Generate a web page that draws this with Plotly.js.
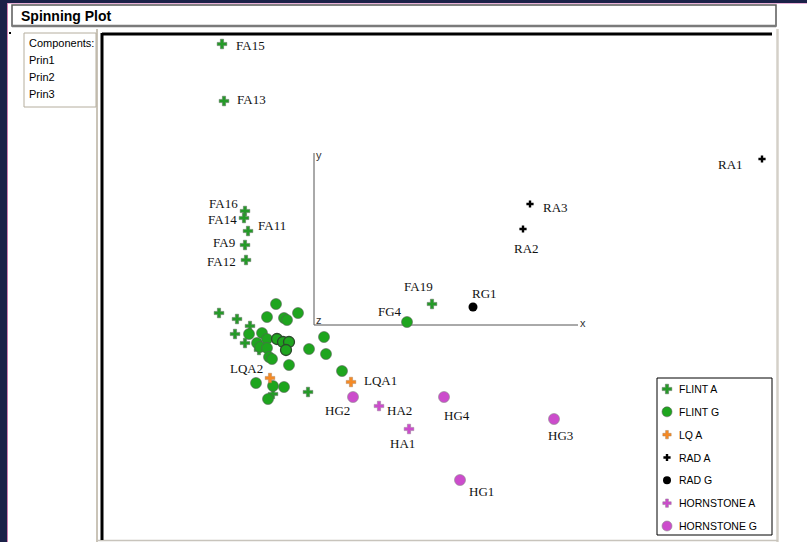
<!DOCTYPE html>
<html>
<head>
<meta charset="utf-8">
<script src="https://cdn.plot.ly/plotly-3.0.1.min.js"></script>
<style>html,body{margin:0;padding:0;background:#fff;}#chart{width:807px;height:542px;}</style>
</head>
<body>
<div id="chart"></div>
<script>
// ---- DATA (principal component scores) ----
const flintA_names = ["FA15","FA13","FA16","FA14","FA11","FA9","FA12","FA19","","","","","","","",""];
const flintA_prin1 = [-1.84,-1.80,-1.38,-1.40,-1.32,-1.38,-1.36,2.36,-1.90,-1.54,-1.28,-1.58,-1.38,-1.10,-0.12,-0.82];
const flintA_prin2 = [5.62,4.48,2.28,2.14,1.88,1.60,1.30,0.42,0.24,0.12,-0.02,-0.18,-0.36,-0.50,-1.34,-1.38];

const flintG_names = ["FG4","","","","","","","","","","","","","","","","","","","","","",""];
const flintG_prin1 = [1.86,-0.76,-0.94,-0.60,-0.54,-0.32,-1.30,-1.04,-1.14,-0.94,-1.08,-0.94,-0.90,-0.84,-0.50,-0.10,0.20,0.24,0.56,-1.16,-0.82,-0.60,-0.92];
const flintG_prin2 = [0.06,0.42,0.16,0.14,0.10,0.24,-0.18,-0.16,-0.36,-0.28,-0.44,-0.46,-0.64,-0.68,-0.80,-0.48,-0.24,-0.58,-0.92,-1.16,-1.22,-1.24,-1.48];
// selected (highlighted) FLINT G rows
const flintGsel_prin1 = [-0.74,-0.62,-0.50,-0.56];
const flintGsel_prin2 = [-0.28,-0.34,-0.34,-0.50];

const lqA_names = ["LQA1","LQA2"];
const lqA_prin1 = [0.74,-0.88];
const lqA_prin2 = [-1.14,-1.06];

const radA_names = ["RA1","RA2","RA3"];
const radA_prin1 = [8.96,4.18,4.32];
const radA_prin2 = [3.32,1.92,2.42];

const radG_names = ["RG1"];
const radG_prin1 = [3.18];
const radG_prin2 = [0.36];

const hornA_names = ["HA2","HA1"];
const hornA_prin1 = [1.30,1.90];
const hornA_prin2 = [-1.62,-2.08];

const hornG_names = ["HG2","HG4","HG3","HG1"];
const hornG_prin1 = [0.78,2.60,4.80,2.92];
const hornG_prin2 = [-1.44,-1.44,-1.88,-3.10];

const legendItems = ["FLINT A","FLINT G","LQ A","RAD A","RAD G","HORNSTONE A","HORNSTONE G"];
const components = ["Components:","Prin1","Prin2","Prin3"];
const triad_x_end = 5.28;   // length of drawn x axis of the spin triad
const triad_y_end = 3.44;   // length of drawn y axis of the spin triad

// ---- STYLE / LAYOUT ----
const GREEN = "#1ea51e", GREEN_A = "#259a28", ORANGE = "#f58a25", MAG = "#cc4ccc";
const styles = {
  "FLINT A":     {symbol:"cross",  size:8,  color:GREEN_A, line:{color:"rgba(90,110,90,0.5)", width:1}},
  "FLINT G":     {symbol:"circle", size:11, color:GREEN,   line:{color:"rgba(90,90,90,0.55)", width:1}},
  "LQ A":        {symbol:"cross",  size:8,  color:ORANGE,  line:{color:"rgba(160,120,80,0.4)", width:1}},
  "RAD A":       {symbol:"cross",  size:6,  color:"#000",  line:{width:0}},
  "RAD G":       {symbol:"circle", size:9,  color:"#000",  line:{width:0}},
  "HORNSTONE A": {symbol:"cross",  size:8,  color:MAG,     line:{color:"rgba(150,120,150,0.5)", width:1}},
  "HORNSTONE G": {symbol:"circle", size:11, color:MAG,     line:{color:"rgba(140,140,140,0.6)", width:1}}
};
const legendSizes = {"FLINT A":8,"FLINT G":10,"LQ A":7,"RAD A":6,"RAD G":8,"HORNSTONE A":7,"HORNSTONE G":10};

const labelOffsets = {
  FA15:["left",13,-1], FA13:["left",12,2], FA16:["right",-6,8], FA14:["right",-6,-1],
  FA11:["left",9,6], FA9:["right",-9,3], FA12:["right",-9,-1], FA19:["right",2,18],
  FG4:["right",-4,11], RG1:["left",-2,14], RA3:["left",12,-3], RA2:["left",-10,-19],
  RA1:["right",-18,-5], LQA1:["left",12,2], LQA2:["right",-6,10], HG2:["right",-2,-13],
  HA2:["left",7,-4], HA1:["left",-20,-14], HG4:["left",-1,-18], HG3:["left",-7,-16],
  HG1:["left",8,-11]
};

const ML = 102, MR = 35, MT = 34, MB = 2, W = 807, H = 542;
const PW = W - ML - MR, PH = H - MT - MB;
const px = p => (p - ML) / PW;
const py = p => (H - MB - p) / PH;

const mk = (name, xs, ys, extra) => Object.assign({type:"scatter", mode:"markers", hoverinfo:"skip",
  showlegend:false, name, x:xs, y:ys, marker:Object.assign({}, styles[name])}, extra || {});

const traces = [
  {type:"scatter", mode:"lines", x:[0, 0], y:[0, triad_y_end], showlegend:false, hoverinfo:"skip", line:{color:"#555", width:1}},
  {type:"scatter", mode:"lines", x:[0, triad_x_end], y:[0, 0], showlegend:false, hoverinfo:"skip", line:{color:"#555", width:1}},
  mk("FLINT A", flintA_prin1, flintA_prin2),
  mk("FLINT G", flintG_prin1, flintG_prin2),
  Object.assign(mk("FLINT G", flintGsel_prin1, flintGsel_prin2), {marker:Object.assign({}, styles["FLINT G"], {line:{color:"#2c4a2c", width:1.3}})}),
  mk("LQ A", lqA_prin1, lqA_prin2),
  mk("RAD A", radA_prin1, radA_prin2),
  mk("RAD G", radG_prin1, radG_prin2),
  mk("HORNSTONE A", hornA_prin1, hornA_prin2),
  mk("HORNSTONE G", hornG_prin1, hornG_prin2)
];

// legend drawn on its own small axes: one key marker per category
legendItems.forEach((name, i) => {
  const m = Object.assign({}, styles[name], {size:legendSizes[name]});
  traces.push({type:"scatter", mode:"markers", hoverinfo:"skip", showlegend:false,
    xaxis:"x2", yaxis:"y2", x:[10], y:[i], marker:m});
});

// point labels
const annotations = [];
const groups = [[flintA_names,flintA_prin1,flintA_prin2],[flintG_names,flintG_prin1,flintG_prin2],
  [lqA_names,lqA_prin1,lqA_prin2],[radA_names,radA_prin1,radA_prin2],[radG_names,radG_prin1,radG_prin2],
  [hornA_names,hornA_prin1,hornA_prin2],[hornG_names,hornG_prin1,hornG_prin2]];
groups.forEach(([n, xs, ys]) => n.forEach((lab, i) => {
  if (!lab) return;
  const o = labelOffsets[lab] || ["left", 8, 0];
  annotations.push({xref:"x", yref:"y", x:xs[i], y:ys[i], text:lab, showarrow:false,
    xanchor:o[0], yanchor:"middle", xshift:o[1], yshift:o[2], borderpad:0,
    font:{family:"Liberation Serif, Times New Roman, serif", size:13, color:"#111"}});
}));
legendItems.forEach((name, i) => annotations.push({xref:"x2", yref:"y2", x:21, y:i, text:name,
  showarrow:false, xanchor:"left", yanchor:"middle", borderpad:0,
  font:{family:"Liberation Sans, Arial, sans-serif", size:10.5, color:"#000"}}));

// triad axis letters
const axFont = {family:"Liberation Sans, Arial, sans-serif", size:11, color:"#333"};
annotations.push({xref:"x", yref:"y", x:0, y:triad_y_end, text:"y", showarrow:false, xanchor:"left", yanchor:"middle", xshift:0, yshift:-2, font:axFont});
annotations.push({xref:"x", yref:"y", x:triad_x_end, y:0, text:"x", showarrow:false, xanchor:"left", yanchor:"middle", xshift:0, yshift:2, font:axFont});
annotations.push({xref:"x", yref:"y", x:0, y:0, text:"z", showarrow:false, xanchor:"left", yanchor:"middle", xshift:0, yshift:5, font:axFont});

// window chrome
annotations.push({xref:"paper", yref:"paper", x:px(19), y:py(16), text:"<b>Spinning Plot</b>", showarrow:false,
  xanchor:"left", yanchor:"middle", font:{family:"Liberation Sans, Arial, sans-serif", size:14, color:"#000"}});
components.forEach((c, i) => annotations.push({xref:"paper", yref:"paper", x:px(27), y:py(43 + i*17),
  text:c, showarrow:false, xanchor:"left", yanchor:"middle",
  font:{family:"Liberation Sans, Arial, sans-serif", size:11, color:"#000"}}));

const rect = (x0,y0,x1,y1,fill,lc,lw,layer) => ({type:"rect", xref:"paper", yref:"paper",
  x0:px(x0), x1:px(x1), y0:py(y0), y1:py(y1), fillcolor:fill, line:{color:lc||fill, width:lw===undefined?0:lw}, layer:layer||"below"});
const line = (x0,y0,x1,y1,c,w) => ({type:"line", xref:"paper", yref:"paper",
  x0:px(x0), x1:px(x1), y0:py(y0), y1:py(y1), line:{color:c, width:w}, layer:"above"});

const LX0 = 657, LX1 = 772, LY0 = 378, LY1 = 535;
const shapes = [
  rect(0,0,807,3,"#1b2148"), rect(0,0,7,542,"#1b2148"),
  line(7,3.5,807,3.5,"#e8b0d8",1), line(7.5,3,7.5,542,"#d080b0",1),
  rect(12,5,776,26,"#fff","#5a5a5a",1.5),
  line(12,26,776,26,"#7a7a7a",2.5),
  line(9,33,11,33,"#000",2),
  rect(24,33,96,107,"#fff","#b5ae9e",1),
  line(97,29,97,542,"#b8b0a0",1.5),
  line(777.5,29,777.5,542,"#d4d0c8",2.5),
  line(97,540.5,778,540.5,"#c8c4bc",1.5),
  line(102,34,772,34,"#000",3),
  line(102,33,102,540,"#000",3),
  rect(LX0,LY0,LX1,LY1,"#fff","#000",1,"below")
];

// legend key axes: 1 unit = 22.83 px vertically, 1 unit = 1 px horizontally
const LSTEP = 22.83;
const layout = {
  width:W, height:H, margin:{l:ML, r:MR, t:MT, b:MB, pad:0},
  paper_bgcolor:"#fff", plot_bgcolor:"rgba(0,0,0,0)",
  xaxis:{range:[-4.24, 9.16], visible:false, fixedrange:true, domain:[0,1]},
  yaxis:{range:[-4.30, 5.82], visible:false, fixedrange:true, domain:[0,1]},
  xaxis2:{domain:[px(LX0), px(LX1)], range:[0, LX1-LX0], visible:false, fixedrange:true, anchor:"y2"},
  yaxis2:{domain:[py(LY1), py(LY0)], range:[6 + 9/LSTEP, -11/LSTEP], visible:false, fixedrange:true, anchor:"x2"},
  showlegend:false,
  annotations, shapes
};

Plotly.newPlot("chart", traces, layout, {displayModeBar:false, staticPlot:true});
</script>
</body>
</html>
